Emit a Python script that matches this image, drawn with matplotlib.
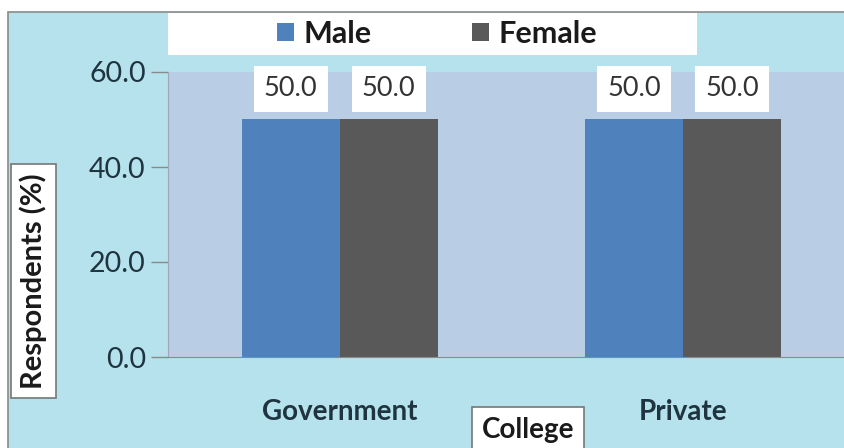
import numpy as np
import matplotlib
matplotlib.use("Agg")
import matplotlib.pyplot as plt
from matplotlib.patches import Rectangle

# ? Data
colleges = ["Government", "Private"]
male = [50.0, 50.0]
female = [50.0, 50.0]
y_ticks = [0.0, 20.0, 40.0, 60.0]

plt.rcParams["font.family"] = ["Lato", "DejaVu Sans"]

W, H = 845, 448
fig = plt.figure(figsize=(W / 100, H / 100), dpi=100)
fig.patch.set_facecolor("white")

# * Chart area background (water-blue) with thin grey frame
fig.add_artist(Rectangle((8 / W, -0.01), 1.0, 1 - 12 / H + 0.01,
                         transform=fig.transFigure, facecolor="#b5e2ec",
                         edgecolor="#8a8a8a", linewidth=1.2, zorder=0))

# * Legend white strip
fig.add_artist(Rectangle((168 / W, 1 - 55 / H), (697 - 168) / W, 42 / H,
                         transform=fig.transFigure, facecolor="white",
                         edgecolor="none", zorder=1))

ax = fig.add_axes([168 / W, 1 - 357 / H, 677 / W, 285 / H])
ax.set_facecolor("#b9cde5")

x = np.arange(len(colleges))
width = 0.2857
b1 = ax.bar(x - width / 2, male, width, color="#4f81bd", label="Male", zorder=2)
b2 = ax.bar(x + width / 2, female, width, color="#595959", label="Female", zorder=2)

# * Data labels in white boxes
for bars, vals in ((b1, male), (b2, female)):
    for rect, v in zip(bars, vals):
        ax.annotate(f"{v:.1f}", (rect.get_x() + rect.get_width() / 2, v),
                    xytext=(0, 22), textcoords="offset points",
                    ha="center", va="center", fontsize=19.5, color="#333333",
                    bbox=dict(boxstyle="square,pad=0.38", facecolor="white",
                              edgecolor="none"), zorder=3)

ax.set_xlim(-0.5, 1.472)
ax.set_ylim(0, 60)
ax.set_yticks(y_ticks)
ax.set_yticklabels([f"{t:.1f}" for t in y_ticks], fontsize=20.5, color="#1f3440")
ax.tick_params(axis="y", length=12, width=1, color="#8a8a8a", pad=4)
ax.set_xticks(x)
ax.set_xticklabels(colleges, fontsize=20, fontweight="bold", color="#1f3440")
ax.tick_params(axis="x", length=0, pad=30)

for s in ("top", "right"):
    ax.spines[s].set_visible(False)
ax.spines["left"].set_color("#9aa8b8")
ax.spines["bottom"].set_color("#8a8a8a")

# * Axis titles in white bordered boxes
ax.set_ylabel("Respondents (%)", fontsize=21, fontweight="bold", color="#1a1a1a",
              bbox=dict(boxstyle="square,pad=0.3", facecolor="white",
                        edgecolor="#777777", linewidth=1.2))
ax.yaxis.set_label_coords((47 - 168) / 677, (357 - 281) / 285)
ax.set_xlabel("College", fontsize=20, fontweight="bold", color="#1a1a1a",
              bbox=dict(boxstyle="square,pad=0.35", facecolor="white",
                        edgecolor="#777777", linewidth=1.2))
ax.xaxis.set_label_coords((528 - 168) / 677, (357 - 417) / 285)

# * Legend
leg = fig.legend(handles=[b1, b2], loc="center", ncol=2,
                 bbox_to_anchor=(437 / W, 1 - 34 / H), frameon=False,
                 handlelength=0.55, handleheight=0.55, handletextpad=0.3,
                 columnspacing=3.3,
                 prop={"family": ["Lato", "DejaVu Sans"], "weight": "bold", "size": 22})
for t in leg.get_texts():
    t.set_color("#1a1a1a")
leg.set_zorder(5)

fig.savefig("out.png", dpi=100)
